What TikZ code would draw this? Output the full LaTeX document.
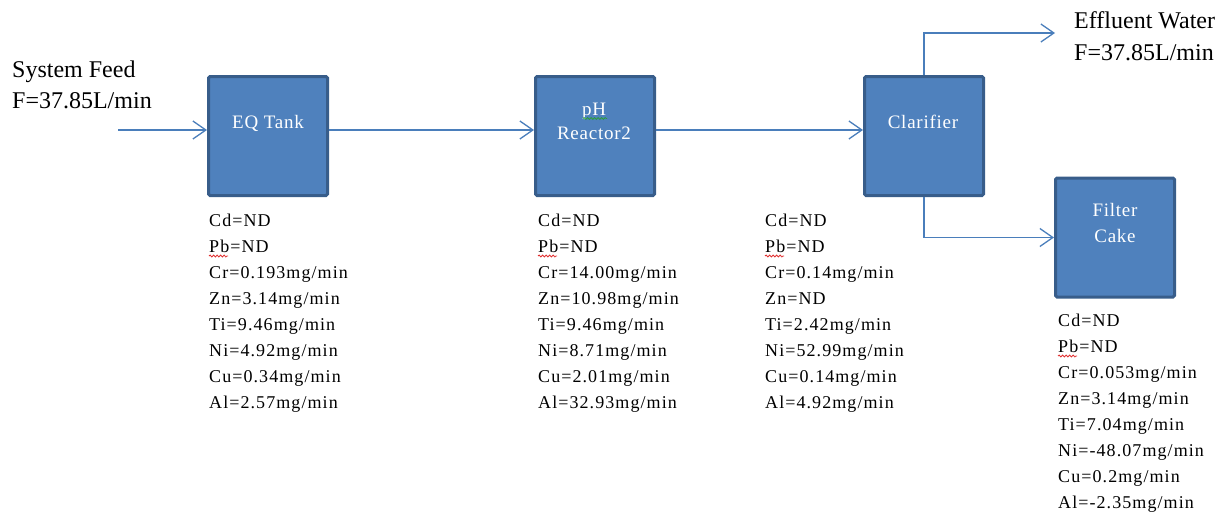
\documentclass[tikz,border=0pt]{standalone}
\usepackage{fontspec}
\setmainfont{Liberation Serif}
\usetikzlibrary{arrows.meta,decorations.pathmorphing}
\definecolor{boxfill}{HTML}{4F81BD}
\definecolor{boxline}{HTML}{385D8A}
\definecolor{flowblue}{HTML}{4A7EBB}
\definecolor{spellred}{HTML}{E03030}
\definecolor{spellgreen}{HTML}{2E9E3E}
\begin{document}
\begin{tikzpicture}[x=1pt,y=-1pt,
  unit/.style={draw=boxline, fill=boxfill, line width=3pt, rounded corners=1.5pt,
    minimum width=119pt, minimum height=119pt, inner sep=0pt, outer sep=1.5pt},
  boxtext/.style={text=white, font=\fontsize{19}{24}\selectfont\addfontfeature{LetterSpace=4},
    anchor=base, inner sep=0pt},
  head/.style={font=\fontsize{24}{31}\selectfont, anchor=base west, inner sep=0pt},
  data/.style={font=\fontsize{18}{26}\selectfont\addfontfeature{LetterSpace=6},
    align=left, anchor=north west, inner sep=0pt},
  flowline/.style={draw=flowblue, line width=1.3pt, -{Straight Barb[length=13pt,width=18pt]}},
  squig/.style={line width=0.8pt, decorate, decoration={snake, amplitude=1pt, segment length=3.5pt}}
]
\useasboundingbox (0,0) rectangle (1225,512);

% process units
\node[unit] (eq) at (268,136) {};
\node[boxtext] (eqlabel) at (268,128) {EQ Tank};
\node[unit] (ph) at (595,136) {};
\node[boxtext] (phlabela) at (594,115) {pH};
\node[boxtext] (phlabelb) at (594,139) {Reactor2};
\node[unit] (cl) at (924,136) {};
\node[boxtext] (cllabel) at (923,128) {Clarifier};
\node[unit] (fc) at (1115,237.5) {};
\node[boxtext] (fclabela) at (1115,216) {Filter};
\node[boxtext] (fclabelb) at (1115,242) {Cake};

% stream labels
\node[head] (feeda) at (12,77) {System Feed};
\node[head] (feedb) at (12,108) {F=37.85L/min};
\node[head] (effa) at (1074,28) {Effluent Water};
\node[head] (effb) at (1074,60) {F=37.85L/min};

% data blocks
\node[data] (eqdata) at (209,212) {\rule{0pt}{14pt}Cd=ND\\Pb=ND\\Cr=0.193mg/min\\Zn=3.14mg/min\\Ti=9.46mg/min\\Ni=4.92mg/min\\Cu=0.34mg/min\\Al=2.57mg/min};
\node[data] (phdata) at (538,212) {\rule{0pt}{14pt}Cd=ND\\Pb=ND\\Cr=14.00mg/min\\Zn=10.98mg/min\\Ti=9.46mg/min\\Ni=8.71mg/min\\Cu=2.01mg/min\\Al=32.93mg/min};
\node[data] (cldata) at (765,212) {\rule{0pt}{14pt}Cd=ND\\Pb=ND\\Cr=0.14mg/min\\Zn=ND\\Ti=2.42mg/min\\Ni=52.99mg/min\\Cu=0.14mg/min\\Al=4.92mg/min};
\node[data] (fcdata) at (1058,312) {\rule{0pt}{14pt}Cd=ND\\Pb=ND\\Cr=0.053mg/min\\Zn=3.14mg/min\\Ti=7.04mg/min\\Ni=-48.07mg/min\\Cu=0.2mg/min\\Al=-2.35mg/min};

% spell-check underlines
\draw[squig, spellred] (209,256) -- ++(19,0);
\draw[squig, spellred] (538,256) -- ++(19,0);
\draw[squig, spellred] (765,256) -- ++(19,0);
\draw[squig, spellred] (1058,356) -- ++(19,0);
\draw[squig, spellgreen] (583,118.5) -- ++(24,0);

% connectors
\coordinate (feedin) at (118,130);
\coordinate (effout) at (1055,33);
\draw[flowline] (feedin) -- (feedin -| eq.west);
\draw[flowline] (eq.east |- feedin) -- (ph.west |- feedin);
\draw[flowline] (ph.east |- feedin) -- (cl.west |- feedin);
\draw[flowline] (cl.north) |- (effout);
\draw[flowline] (cl.south) |- (fc.west);
\end{tikzpicture}
\end{document}
